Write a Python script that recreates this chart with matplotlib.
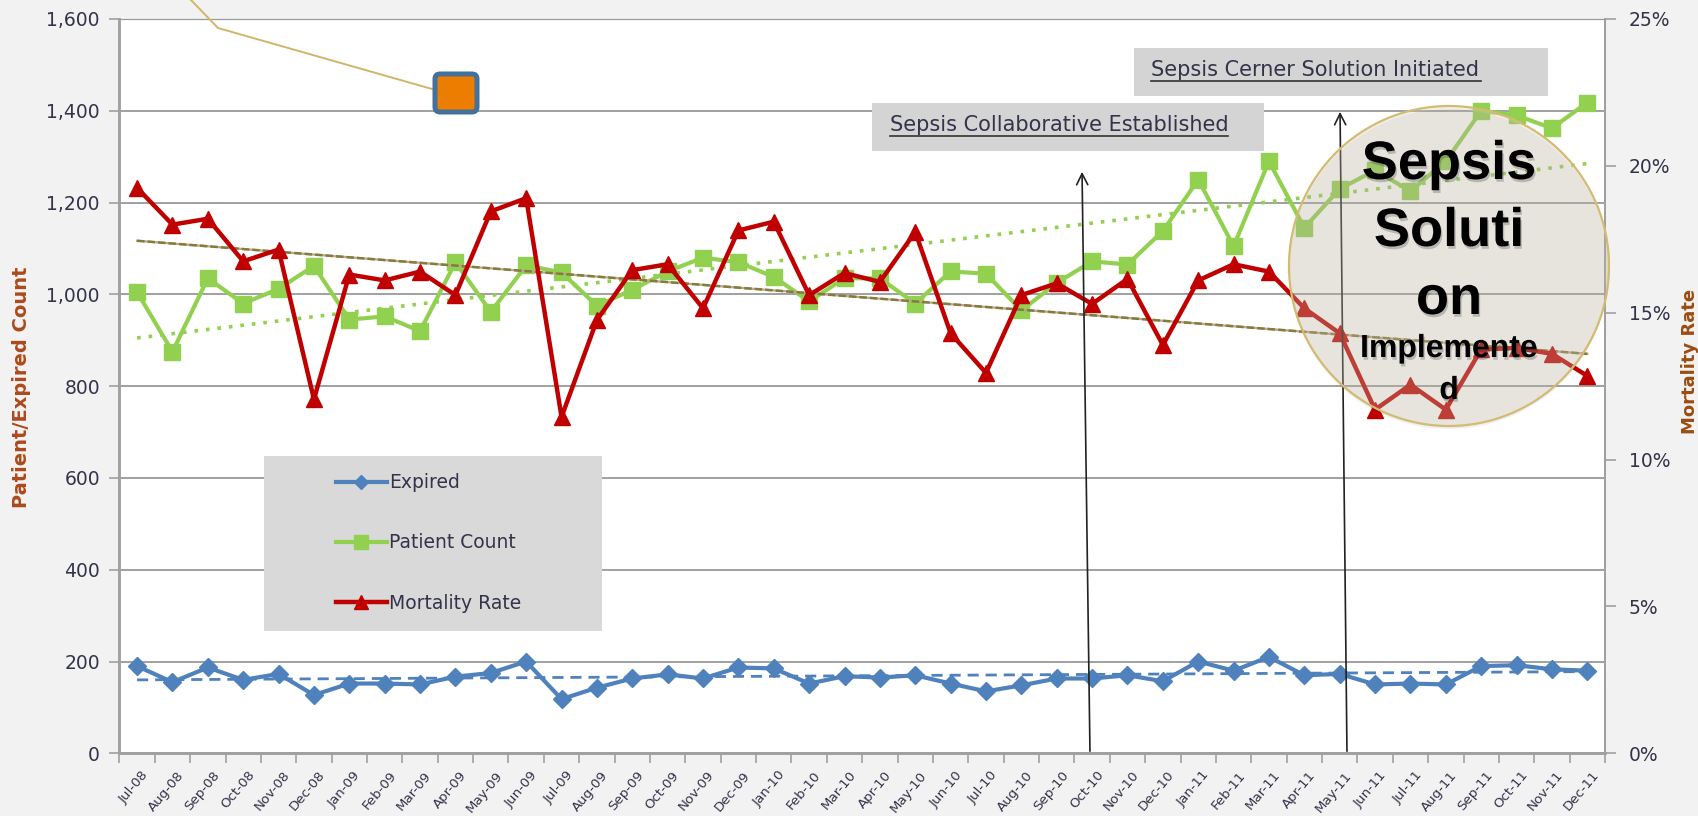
import matplotlib
matplotlib.use("Agg")
import matplotlib.pyplot as plt
import matplotlib.patheffects as pe
from matplotlib.patches import Rectangle, Circle, FancyBboxPatch

months = ['Jul-08','Aug-08','Sep-08','Oct-08','Nov-08','Dec-08','Jan-09','Feb-09','Mar-09','Apr-09','May-09','Jun-09',
          'Jul-09','Aug-09','Sep-09','Oct-09','Nov-09','Dec-09','Jan-10','Feb-10','Mar-10','Apr-10','May-10','Jun-10',
          'Jul-10','Aug-10','Sep-10','Oct-10','Nov-10','Dec-10','Jan-11','Feb-11','Mar-11','Apr-11','May-11','Jun-11',
          'Jul-11','Aug-11','Sep-11','Oct-11','Nov-11','Dec-11']
expired = [190,155,187,160,173,127,152,152,150,167,175,200,118,143,163,172,163,187,185,152,168,165,170,152,
           135,148,163,163,170,157,200,180,210,170,173,150,152,150,190,192,183,180]
patients = [1005,875,1035,980,1012,1062,945,952,920,1070,962,1063,1048,975,1010,1050,1080,1070,1038,985,1035,1035,
            980,1050,1045,965,1025,1072,1065,1138,1250,1105,1290,1145,1230,1270,1225,1290,1400,1390,1362,1418]
mortality = [19.25,18.0,18.2,16.75,17.15,12.05,16.3,16.1,16.4,15.6,18.45,18.9,11.45,14.75,16.45,16.65,15.15,17.8,
             18.1,15.6,16.35,16.05,17.75,14.3,12.95,15.6,16.0,15.3,16.15,13.9,16.1,16.65,16.4,15.15,14.3,11.7,
             12.55,11.7,13.75,13.8,13.6,12.85]
# trend lines, first and last month only
trend_x = [0, 41]
trend_expired = [160, 178]
trend_patients = [905, 1285]
trend_mortality = [17.45, 13.6]

left_ticks = [0,200,400,600,800,1000,1200,1400,1600]
right_ticks = [0,5,10,15,20,25]

BLUE = '#4f81bd'
GREEN = '#92d050'
RED = '#c00000'
GREY = '#a0a0a0'
TXT = '#33334a'
W, H = 1698, 816

plt.rcParams['font.family'] = ['DejaVu Sans']

fig = plt.figure(figsize=(W/100, H/100), dpi=100, facecolor='#f2f2f2')
L, R, T, B = 119.4, 1605, 19, 753.3
ax = fig.add_axes([L/W, 1-B/H, (R-L)/W, (B-T)/H])
ax2 = ax.twinx()

x = list(range(len(months)))
l1, = ax.plot(x, expired, color=BLUE, lw=3, marker='D', ms=9, label='Expired', zorder=3)
l2, = ax.plot(x, patients, color=GREEN, lw=3, marker='s', ms=12, label='Patient Count', zorder=3)
ax.plot(trend_x, trend_expired, color=BLUE, lw=2, ls=(0, (4, 2.5)), zorder=2)
ax.plot(trend_x, trend_patients, color=GREEN, lw=2.6, ls=(0, (1, 2.2)), zorder=2)
l3, = ax2.plot(x, mortality, color=RED, lw=3.2, marker='^', ms=12, label='Mortality Rate', zorder=3)
ax2.plot(trend_x, trend_mortality, color='#c8a090', lw=1.6, zorder=2)
ax2.plot(trend_x, trend_mortality, color='#7f7f3a', lw=1.8, ls=(0, (3, 1.2)), zorder=2)

ax.set_xlim(-0.5, 41.5)
ax.set_ylim(0, 1600)
ax2.set_ylim(0, 25)
ax.set_yticks(left_ticks)
ax.set_yticklabels(['{:,}'.format(v) for v in left_ticks], fontsize=13.5, color=TXT)
ax2.set_yticks(right_ticks)
ax2.set_yticklabels(['{}%'.format(v) for v in right_ticks], fontsize=13.5, color=TXT)
ax.set_xticks([i-0.5 for i in x] + [41.5])
ax.set_xticklabels([])
ax.tick_params(axis='x', length=7, width=1.2, color=GREY)
ax.tick_params(axis='y', length=7, width=1.2, color=GREY, pad=7)
ax2.tick_params(axis='y', length=8, width=1.2, color=GREY, pad=9)
ax.grid(axis='y', color='#999999', lw=1.3)
ax.set_axisbelow(True)
for a in (ax, ax2):
    a.spines['top'].set_color('#999999')
    a.spines['left'].set_color(GREY)
    a.spines['right'].set_color(GREY)
    a.spines['bottom'].set_color(GREY)
    a.spines['left'].set_linewidth(1.8)
    a.spines['right'].set_linewidth(1.4)
    a.spines['bottom'].set_linewidth(1.8)
for i, m in enumerate(months):
    ax.annotate(m, (i, 0), xytext=(3, -11), textcoords='offset points', rotation=50,
                ha='right', va='top', rotation_mode='anchor', fontsize=9.6, color=TXT)

# overlay in image pixels for the pasted shapes
ov = fig.add_axes([0, 0, 1, 1], zorder=10)
ov.set_xlim(0, W)
ov.set_ylim(H, 0)
ov.axis('off')
ov.patch.set_alpha(0)

ov.text(22, 387, 'Patient/Expired Count', rotation=90, ha='center', va='center',
        fontsize=14, fontweight='bold', color='#ac4a1c')
ov.text(1690, 361, 'Mortality Rate', rotation=90, ha='center', va='center',
        fontsize=13, fontweight='bold', color='#9a4d12')

# legend
ov.add_patch(Rectangle((264, 456), 338, 175, fc='#d9d9d9', ec='none', zorder=1))
ov.legend(handles=[l1, l2, l3], loc='center left', bbox_to_anchor=(336, 543),
          bbox_transform=ov.transData, frameon=False, fontsize=13.5, labelcolor=TXT, markerscale=0.8,
          handlelength=2.7, handletextpad=0.15, labelspacing=2.2, borderpad=0, borderaxespad=0)

# annotation boxes
ov.add_patch(Rectangle((872, 103), 392, 48, fc='#d4d4d4', ec='none', zorder=1))
ov.add_patch(Rectangle((1134, 48), 414, 48, fc='#d4d4d4', ec='none', zorder=1))
ov.text(890, 125, 'Sepsis Collaborative Established', fontsize=15, color=TXT, va='center', zorder=2)
ov.plot([890, 1228], [136, 136], color='#333333', lw=1.2, zorder=2)
ov.text(1151, 70, 'Sepsis Cerner Solution Initiated', fontsize=15, color=TXT, va='center', zorder=2)
ov.plot([1151, 1481], [81, 81], color='#333333', lw=1.2, zorder=2)

# arrows
ov.annotate('', xy=(1082, 169), xytext=(1090, 754),
            arrowprops=dict(arrowstyle='->', color='#222222', lw=1.2, mutation_scale=20), zorder=3)
ov.annotate('', xy=(1340, 109), xytext=(1347, 754),
            arrowprops=dict(arrowstyle='->', color='#222222', lw=1.2, mutation_scale=20), zorder=3)

# callout leader and box
ov.plot([191, 218, 432], [0, 28, 89], color='#d0b56a', lw=1.4, zorder=3)
ov.add_patch(FancyBboxPatch((437, 76), 38, 34, boxstyle='round,pad=2,rounding_size=5',
                            fc='#ed7d00', ec='#44709c', lw=3.6, zorder=4))

# circle callout, see-through fill and a separate solid rim
ov.add_patch(Circle((1449, 269), 160, fc='k', ec='none', alpha=0.06, zorder=4))
ov.add_patch(Circle((1449, 266), 160, fc='#d5cbb7', ec='none', alpha=0.3, zorder=5))
ov.add_patch(Circle((1449, 266), 160, fc='none', ec='#d3bb72', lw=1.6, zorder=5))
shadow = [pe.withSimplePatchShadow(offset=(1, -2), alpha=0.2, shadow_rgbFace='k')]
for txt, yy, fs in [('Sepsis', 165, 39), ('Soluti', 232, 39), ('on', 300, 39),
                    ('Implemente', 349, 23), ('d', 391, 23)]:
    ov.text(1449, yy, txt, ha='center', va='center', fontsize=fs, fontweight='bold', color='black',
            family='Liberation Sans', zorder=6, path_effects=shadow)

fig.savefig('out.png', dpi=100, facecolor=fig.get_facecolor())
